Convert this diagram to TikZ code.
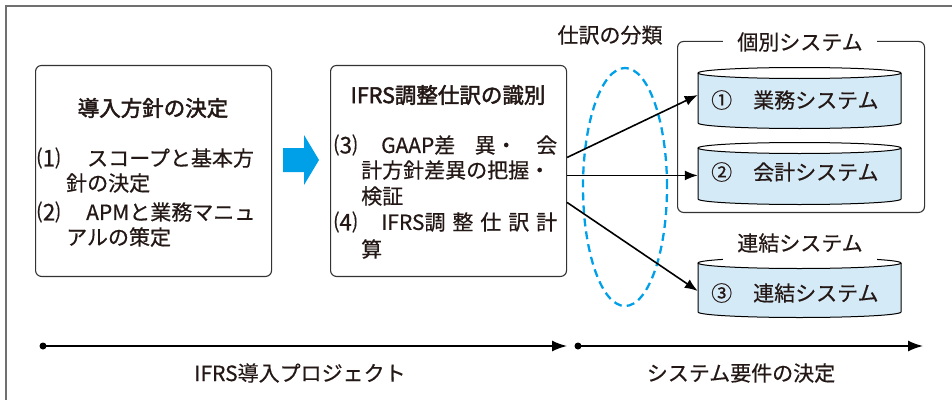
\documentclass[tikz,border=0pt]{standalone}
\usepackage{fontspec}
\setmainfont[FakeBold=0.5]{Noto Sans CJK JP}
\newfontfamily\ttlfont[FakeBold=2.2]{Noto Sans CJK JP}
\usetikzlibrary{arrows.meta,calc}
\definecolor{ink}{HTML}{231815}
\definecolor{cyanA}{HTML}{00A0E9}
\definecolor{cylblue}{HTML}{D5EAF7}
\definecolor{framegray}{HTML}{707070}
\begin{document}
\begin{tikzpicture}[x=1pt,y=1pt,
  txt/.style={inner sep=0pt, text=ink, font=\fontsize{21}{25}\selectfont},
  ttl/.style={inner sep=0pt, text=ink, font=\fontsize{21.5}{25}\selectfont\ttlfont},
  stagebox/.style={draw=black!80, line width=1.1pt, rounded corners=6pt, inner sep=0pt},
  conn/.style={line width=1.6pt, -{Latex[length=13pt,width=10pt]}},
  tline/.style={line width=1.6pt, -{Latex[length=15pt,width=11pt]}},
  cylarea/.style={inner sep=0pt, minimum width=203pt},
  whitelabel/.style={fill=white, inner ysep=9pt, inner xsep=14pt, text=ink, font=\fontsize{21}{25}\selectfont},
]
\useasboundingbox (0,0) rectangle (952,400);
% outer frame (left and top only)
\draw[framegray, line width=1.3pt] (6,0) -- (6,394) -- (952,394);

% stage boxes
\node[stagebox, minimum width=236pt, minimum height=211pt, anchor=south west] (box1) at (35,123) {};
\node[stagebox, minimum width=236pt, minimum height=211pt, anchor=south west] (box2) at (330,123) {};

% box 1 texts
\node[ttl] (t1) at (153,292) {導入方針の決定};
\node[txt, anchor=west, font=\fontsize{23}{25}\selectfont] (b1n1) at (37,242) {⑴};
\node[txt, anchor=west] (b1l1) at (87,242) {スコープと基本方};
\node[txt, anchor=west] (b1l2) at (66,217) {針の決定};
\node[txt, anchor=west, font=\fontsize{23}{25}\selectfont] (b1n2) at (37,188) {⑵};
\node[txt, anchor=west] (b1l3) at (86,188) {\makebox[172pt][s]{APMと業務マニュ}};
\node[txt, anchor=west] (b1l4) at (66,163) {アルの策定};

% box 2 texts
\node[ttl] (t2) at (448,305) {IFRS調整仕訳の識別};
\node[txt, anchor=west, font=\fontsize{23}{25}\selectfont] (b2n3) at (334,255) {⑶};
\node[txt, anchor=west] (b2l1) at (381,255) {\makebox[176pt][s]{GAAP差\hfill 異・\hfill 会}};
\node[txt, anchor=west] (b2l2) at (361,230) {計方針差異の把握・};
\node[txt, anchor=west] (b2l3) at (361,204) {検証};
\node[txt, anchor=west, font=\fontsize{23}{25}\selectfont] (b2n4) at (334,178) {⑷};
\node[txt, anchor=west] (b2l4) at (381,178) {\makebox[176pt][s]{IFRS調\hfill 整\hfill 仕\hfill 訳\hfill 計}};
\node[txt, anchor=west] (b2l5) at (361,151) {算};

% blue block arrow
\fill[cyanA] (283,228) -- (304,228) -- (304,215) -- (319,240) -- (304,265) -- (304,252) -- (283,252) -- cycle;

% classification ellipse
\draw[cyanA, line width=2.3pt, dash pattern=on 8pt off 5pt] (625,213) ellipse [x radius=42, y radius=119];
\node[txt] (cls) at (610,365) {仕訳の分類};

% group box
\node[stagebox, minimum width=247pt, minimum height=171pt, anchor=south west] (grp) at (677,187) {};
\node[whitelabel] (grplbl) at (800,358) {個別システム};

% cylinders
\foreach \tt/\bb in {327/277, 252/201, 137/88}{
  \fill[cylblue] (698,\tt) -- (698,\bb) arc[start angle=180, end angle=360, x radius=101.5, y radius=5.5]
     -- (901,\tt) arc[start angle=0, end angle=-180, x radius=101.5, y radius=5.5] -- cycle;
  \fill[white] (799.5,\tt) ellipse [x radius=101.5, y radius=5.5];
  \draw[black, line width=1pt] (698,\tt) -- (698,\bb) arc[start angle=180, end angle=360, x radius=101.5, y radius=5.5] -- (901,\tt);
  \draw[black, line width=1pt] (799.5,\tt) ellipse [x radius=101.5, y radius=5.5];
}
\node[cylarea, minimum height=50pt] (cyl1) at (799.5,302) {};
\node[cylarea, minimum height=51pt] (cyl2) at (799.5,226.5) {};
\node[cylarea, minimum height=49pt] (cyl3) at (799.5,112.5) {};
\node[txt, anchor=west] (c1t) at (711,300) {①　業務システム};
\node[txt, anchor=west] (c2t) at (711,228) {②　会計システム};
\node[txt, anchor=west] (c3t) at (711,107) {③　連結システム};
\node[whitelabel] (renlbl) at (800,157) {連結システム};

% connectors
\coordinate (s1) at ($(box2.east)+(0,13.5)$);
\coordinate (s2) at ($(box2.east)+(0,-4.5)$);
\coordinate (s3) at ($(box2.east)+(0,-31.5)$);
\draw[conn] (s1) -- ($(cyl1.west)+(0,3)$);
\draw[conn] (s2) -- (cyl2.west |- s2);
\draw[conn] (s3) -- ($(cyl3.west)+(0,-3.5)$);

% timeline
\coordinate (p0) at (43,54);
\coordinate (p1) at (567,54);
\coordinate (p2) at (578,54);
\coordinate (p3) at (923,54);
\fill (p0) circle (3.5);
\fill (p2) circle (3.5);
\draw[tline] (p0) -- (p1);
\draw[tline] (p2) -- (p3);
\node[txt] (ph1) at (300,27) {IFRS導入プロジェクト};
\node[txt] (ph2) at (741,27) {システム要件の決定};
\end{tikzpicture}
\end{document}
